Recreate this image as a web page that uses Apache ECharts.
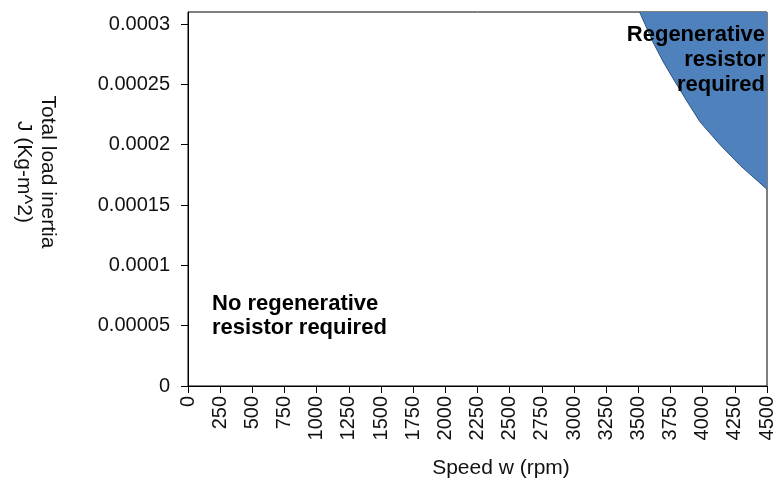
<!DOCTYPE html>
<html>
<head>
<meta charset="utf-8">
<script src="https://cdn.jsdelivr.net/npm/echarts@6/dist/echarts.min.js"></script>
<style>
html,body{margin:0;padding:0;background:#fff;}
#chart{width:778px;height:486px;}
</style>
</head>
<body>
<div id="chart"></div>
<script>
// Boundary curve (speed rpm, inertia kg-m^2)
const speeds = [3510, 3614, 3692, 3769, 3878, 3979, 4135, 4290, 4500];
const inertia = [0.00031, 0.000285, 0.000269, 0.000255, 0.000236, 0.000219, 0.0002, 0.000183, 0.000163];
const xTicks = [0,250,500,750,1000,1250,1500,1750,2000,2250,2500,2750,3000,3250,3500,3750,4000,4250,4500];
const yTicks = [0,0.00005,0.0001,0.00015,0.0002,0.00025,0.0003];
const yTickLabels = ['0','0.00005','0.0001','0.00015','0.0002','0.00025','0.0003'];
const xTitle = 'Speed w (rpm)';
const yTitle = 'Total load inertia\nJ (Kg-m^2)';
const regenText = 'Regenerative\nresistor\nrequired';
const noRegenText = 'No regenerative\nresistor required';

const chart = echarts.init(document.getElementById('chart'), null, {renderer:'canvas'});
const font = 'Liberation Sans, Arial, sans-serif';
chart.setOption({
  animation:false,
  grid:{left:188, right:11, top:12, bottom:100, show:true, borderColor:'#000', borderWidth:1, backgroundColor:'transparent'},
  xAxis:{
    type:'value', min:0, max:4500, interval:250,
    axisLine:{show:true, lineStyle:{color:'#000', width:1}},
    axisTick:{show:true, length:7, inside:false, lineStyle:{color:'#000'}, customValues:xTicks},
    axisLabel:{rotate:90, margin:10, fontFamily:font, fontSize:20, color:'#111', customValues:xTicks,
      formatter:function(v){ return String(Math.round(v)); }},
    splitLine:{show:false}
  },
  yAxis:{
    type:'value', min:0, max:0.00031,
    axisLine:{show:true, lineStyle:{color:'#000', width:1}},
    axisTick:{show:true, length:7, lineStyle:{color:'#000'}, customValues:yTicks},
    axisLabel:{margin:18, fontFamily:font, fontSize:20, color:'#111', customValues:yTicks,
      formatter:function(v){ for(let i=0;i<yTicks.length;i++){ if(Math.abs(v-yTicks[i])<1e-9) return yTickLabels[i]; } return ''; }},
    splitLine:{show:false}
  },
  series:[{
    type:'line',
    data:speeds.map((s,i)=>[s,inertia[i]]),
    showSymbol:false, symbol:'none',
    lineStyle:{color:'#2f5480', width:1},
    areaStyle:{color:'#4f81bd', opacity:1, origin:'end'},
    clip:true, z:1
  }],
  graphic:[
    {type:'text', x:765, y:22, z:10, style:{text:regenText, fontFamily:font, fontSize:22, fontWeight:'bold', fill:'#000', align:'right', verticalAlign:'top', lineHeight:25}},
    {type:'text', x:212, y:292, z:10, style:{text:noRegenText, fontFamily:font, fontSize:22, fontWeight:'bold', fill:'#000', align:'left', verticalAlign:'top', lineHeight:24}},
    {type:'text', x:501, y:468, z:10, style:{text:xTitle, fontFamily:font, fontSize:21, fill:'#111', align:'center', verticalAlign:'middle'}},
    {type:'text', x:36, y:172, rotation:-Math.PI/2, z:10, style:{text:yTitle, fontFamily:font, fontSize:21, fill:'#111', align:'center', verticalAlign:'middle', lineHeight:24}}
  ]
});
</script>
</body>
</html>
